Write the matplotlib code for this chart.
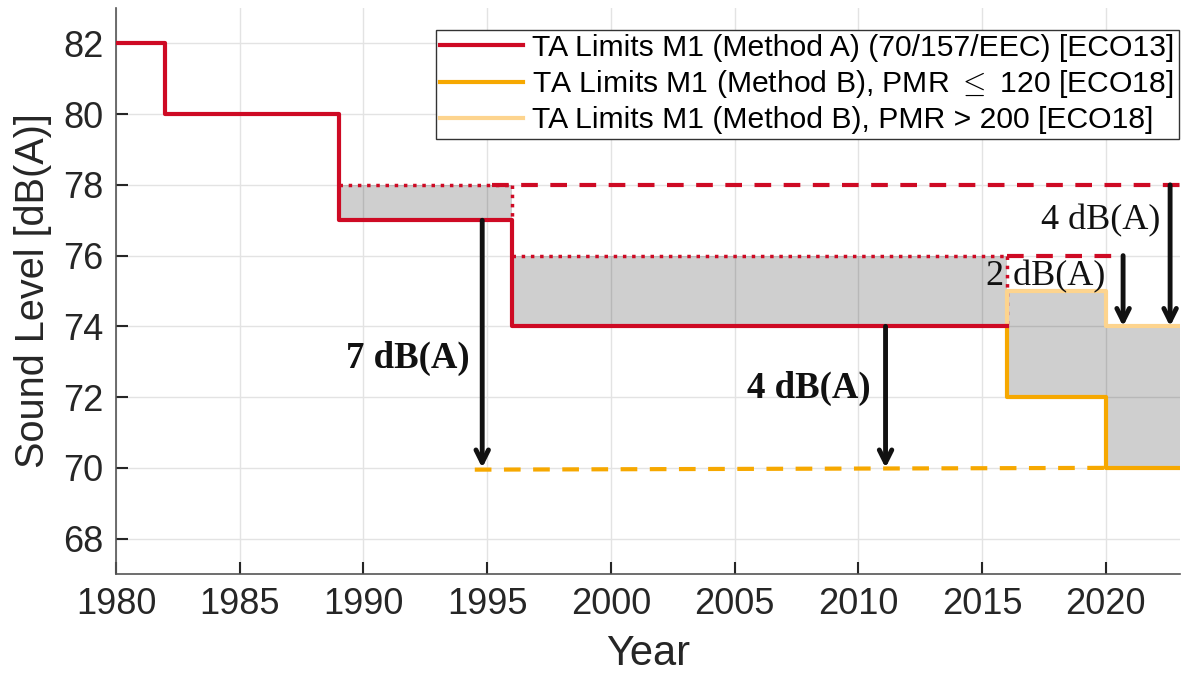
import matplotlib
matplotlib.use("Agg")
import matplotlib.pyplot as plt

# ---- data ----
years_A = [1980, 1982, 1989, 1996, 2016]
level_A = [82, 80, 77, 74, 74]

years_B120 = [2016, 2016, 2020, 2023]
level_B120 = [74, 72, 70, 70]

years_B200 = [2016, 2016, 2020, 2023]
level_B200 = [74, 75, 74, 74]

# previous limits (dotted) and reference levels (dashed)
dot_x = [1989, 1996, 1996, 2016, 2016]
dot_y = [78, 78, 76, 76, 74]
dot_y_prev = [78, 77]
dash_red_78 = ([1995.2, 2023], [78, 78])
dash_red_76 = ([2016, 2020.7], [76, 76])
dash_orange_70 = ([1994.5, 2020], [69.95, 70.0])

# shaded bands: (x0, x1, low, high)
bands = [(1989, 1996, 77, 78), (1996, 2016, 74, 76),
         (2016, 2020, 72, 75), (2020, 2023, 70, 74)]

# arrows: (x, y_from, y_to)
arrows = [(1994.8, 77, 70), (2011.1, 74, 70), (2020.7, 76, 74), (2022.6, 78, 74)]
# labels: (x, y, text, bold)
labels = [(1994.3, 73.1, "7 dB(A)", True), (2010.5, 72.25, "4 dB(A)", True),
          (2020.0, 75.4, "2 dB(A)", False), (2022.2, 77.0, "4 dB(A)", False)]

legend_labels = ["TA Limits M1 (Method A) (70/157/EEC) [ECO13]",
                 r"TA Limits M1 (Method B), PMR $\leq$ 120 [ECO18]",
                 "TA Limits M1 (Method B), PMR > 200 [ECO18]"]

xticks = list(range(1980, 2021, 5))
yticks = list(range(68, 83, 2))

RED = "#CE0A24"
ORANGE = "#F6A800"
LORANGE = "#FDD48E"

plt.rcParams['font.family'] = ['Liberation Sans', 'DejaVu Sans']
plt.rcParams['mathtext.fontset'] = 'cm'

fig = plt.figure(figsize=(11.88, 6.74), dpi=100)
ax = fig.add_axes([116/1188, 1-574/674, (1180-116)/1188, (574-8)/674])

for x0, x1, lo, hi in bands:
    ax.fill_between([x0, x1], [lo, lo], [hi, hi], color='k', alpha=0.19, lw=0, zorder=1)

ax.plot(dot_x[:2], dot_y[:2], ':', color=RED, lw=2.5, zorder=3)
ax.plot([1996, 1996], dot_y_prev, ':', color=RED, lw=2.5, zorder=3)
ax.plot(dot_x[2:4], dot_y[2:4], ':', color=RED, lw=2.5, zorder=3)
ax.plot(dot_x[3:], dot_y[3:], ':', color=RED, lw=2.5, zorder=3)
ax.plot(*dash_red_78, '--', color=RED, lw=3, dashes=(4, 3), zorder=3)
ax.plot(*dash_red_76, '--', color=RED, lw=3, dashes=(4, 3), zorder=3)
ax.plot(*dash_orange_70, '--', color=ORANGE, lw=3, dashes=(4, 3), zorder=3)

lA, = ax.plot(years_A, level_A, drawstyle='steps-post', color=RED, lw=3, zorder=5)
lB2, = ax.plot(years_B200, level_B200, drawstyle='steps-post', color=LORANGE, lw=3, zorder=4)
lB1, = ax.plot(years_B120, level_B120, drawstyle='steps-post', color=ORANGE, lw=3, zorder=4)

for x, y0, y1 in arrows:
    ax.annotate("", xy=(x, y1), xytext=(x, y0),
                arrowprops=dict(arrowstyle='->,head_length=0.9,head_width=0.45',
                                color='#111111', lw=3.5, shrinkA=0, shrinkB=0),
                zorder=6)

for x, y, t, b in labels:
    ax.text(x, y, t, ha='right', va='center', fontsize=26.5 if b else 26,
            fontweight='bold' if b else 'normal', family='Liberation Serif',
            color='#111111', zorder=7)

ax.set_xlim(1980, 2023)
ax.set_ylim(67, 83)
ax.set_xticks(xticks)
ax.set_yticks(yticks)
ax.tick_params(direction='in', length=8.5, width=1.5, colors='#262626', labelsize=26, pad=9)
ax.grid(True, color='#e3e3e3', lw=1)
ax.set_axisbelow(True)
for s in ['top', 'right']:
    ax.spines[s].set_visible(False)
for s in ['left', 'bottom']:
    ax.spines[s].set_color('#555555')
    ax.spines[s].set_linewidth(1.2)

ax.set_xlabel("Year", fontsize=30, color='#262626', labelpad=9)
ax.set_ylabel("Sound Level [dB(A)]", fontsize=28.5, color='#262626', labelpad=8)

leg = ax.legend([lA, lB1, lB2], legend_labels, loc='upper right',
                bbox_to_anchor=(0.999, 0.962), fontsize=21.7, fancybox=False,
                edgecolor='#333333', framealpha=1, handlelength=2.75,
                borderpad=0.15, labelspacing=0.2, handletextpad=0.3, borderaxespad=0)
leg.get_frame().set_linewidth(1.0)

fig.savefig("out.png", dpi=100)
